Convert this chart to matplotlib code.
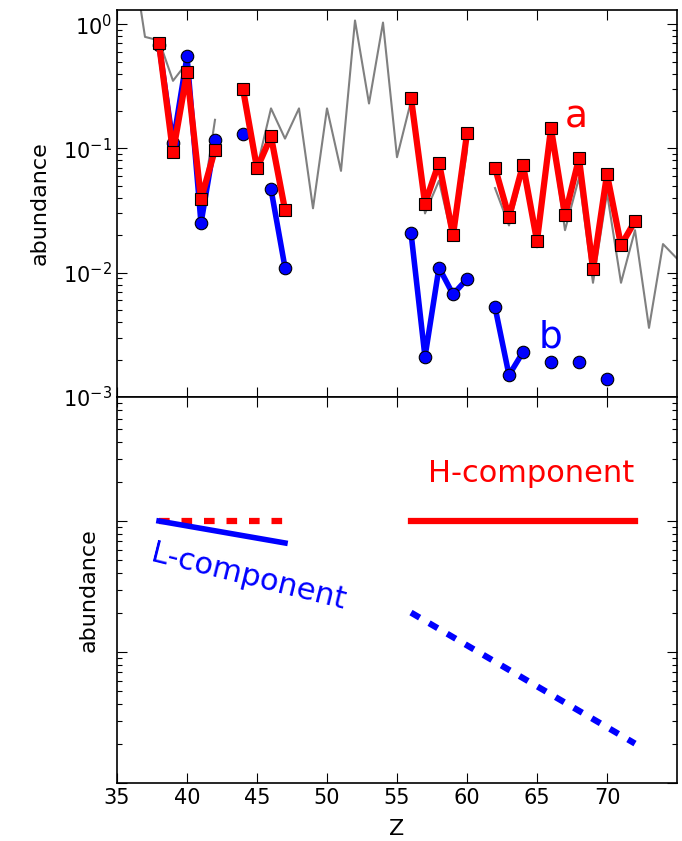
import numpy as np
import matplotlib
matplotlib.use('Agg')
import matplotlib.pyplot as plt

# solar-like reference pattern (gray line), NaN = missing element
Z_sol = np.arange(36, 77)
sol = [4.3, 0.79, 0.74, 0.35, 0.49, 0.030, 0.17, np.nan, 0.30, 0.07,
       0.21, 0.12, 0.21, 0.033, 0.21, 0.066, 1.07, 0.23, 1.03, 0.085,
       0.24, 0.030, 0.055, 0.018, 0.096, np.nan, 0.048, 0.024, 0.066, 0.016,
       0.134, 0.022, 0.058, 0.0083, 0.044, 0.0083, 0.022, 0.0036, 0.017, 0.013,
       0.011]

# star a (red squares), NaN breaks the line
Z_a = np.arange(38, 73)
ab_a = [0.70, 0.093, 0.41, 0.039, 0.098, np.nan, 0.30, 0.069, 0.125, 0.032,
        np.nan, np.nan, np.nan, np.nan, np.nan, np.nan, np.nan, np.nan,
        0.256, 0.036, 0.077, 0.020, 0.132, np.nan,
        0.070, 0.028, 0.074, 0.018, 0.145, 0.029, 0.083, 0.0107, 0.062, 0.0166, 0.026]

# star b (blue circles)
Z_b = np.arange(38, 71)
ab_b = [0.68, 0.11, 0.55, 0.025, 0.116, np.nan, 0.13, np.nan, 0.047, 0.011,
        np.nan, np.nan, np.nan, np.nan, np.nan, np.nan, np.nan, np.nan,
        0.021, 0.0021, 0.011, 0.0067, 0.0089, np.nan,
        0.0053, 0.0015, 0.0023, np.nan, 0.0019, np.nan, 0.0019, np.nan, 0.0014]

# schematic components (lower panel)
H_low = ([38, 47], [0.1, 0.1])
H_high = ([56, 72], [0.1, 0.1])
L_low = ([38, 47], [0.1, 0.068])
L_high = ([56, 72], [0.020, 0.0020])

plt.rcParams['font.family'] = 'DejaVu Sans'
plt.rcParams['mathtext.default'] = 'regular'
plt.rcParams['axes.unicode_minus'] = False

fig = plt.figure(figsize=(6.82, 8.41), dpi=100)
ax1 = fig.add_axes([117/682, 1-397/841, 560/682, 387/841])
ax2 = fig.add_axes([117/682, 1-783/841, 560/682, 386/841], sharex=ax1)

ax1.plot(Z_sol, sol, color='gray', lw=1.5, zorder=1)
ax1.plot(Z_b, ab_b, '-o', color='blue', lw=4, ms=9, mec='k', mew=0.8, zorder=2)
ax1.plot(Z_a, ab_a, '-s', color='red', lw=4.5, ms=8.5, mec='k', mew=0.8, zorder=3)
ax1.text(67.0, 0.147, 'a', color='red', fontsize=27)
ax1.text(65.1, 0.0025, 'b', color='blue', fontsize=27)
ax1.set_yscale('log')
ax1.set_ylim(1e-3, 1.3)
ax1.set_xlim(35, 75)
ax1.set_ylabel('abundance', fontsize=16, labelpad=10)
plt.setp(ax1.get_xticklabels(), visible=False)

ax2.plot(*H_low, color='red', lw=4.5, linestyle=(0, (1.7, 1.9)))
ax2.plot(*H_high, color='red', lw=4.5)
ax2.plot(*L_low, color='blue', lw=4)
ax2.plot(*L_high, color='blue', lw=4.5, linestyle=(0, (1.6, 1.75)))
ax2.text(57.2, 0.2, 'H-component', color='red', fontsize=22)
ax2.text(37.3, 0.0495, 'L-component', color='blue', fontsize=22,
         rotation=-14, rotation_mode='anchor')
ax2.set_yscale('log')
ax2.set_ylim(1e-3, 0.885)
ax2.set_xlabel('Z', fontsize=16, labelpad=8)
ax2.set_ylabel('abundance', fontsize=16, labelpad=10)
ax2.set_xticks([35, 40, 45, 50, 55, 60, 65, 70])
ax2.yaxis.set_major_formatter(plt.NullFormatter())
ax2.yaxis.set_minor_formatter(plt.NullFormatter())

for ax in (ax1, ax2):
    ax.tick_params(which='both', direction='in', top=True, right=True, labelsize=15)
    ax.tick_params(which='major', length=7, width=0.8)
    ax.tick_params(which='minor', length=3.5, width=0.8)
    for s in ax.spines.values():
        s.set_linewidth(1.2)

fig.savefig('out.png', dpi=100)
